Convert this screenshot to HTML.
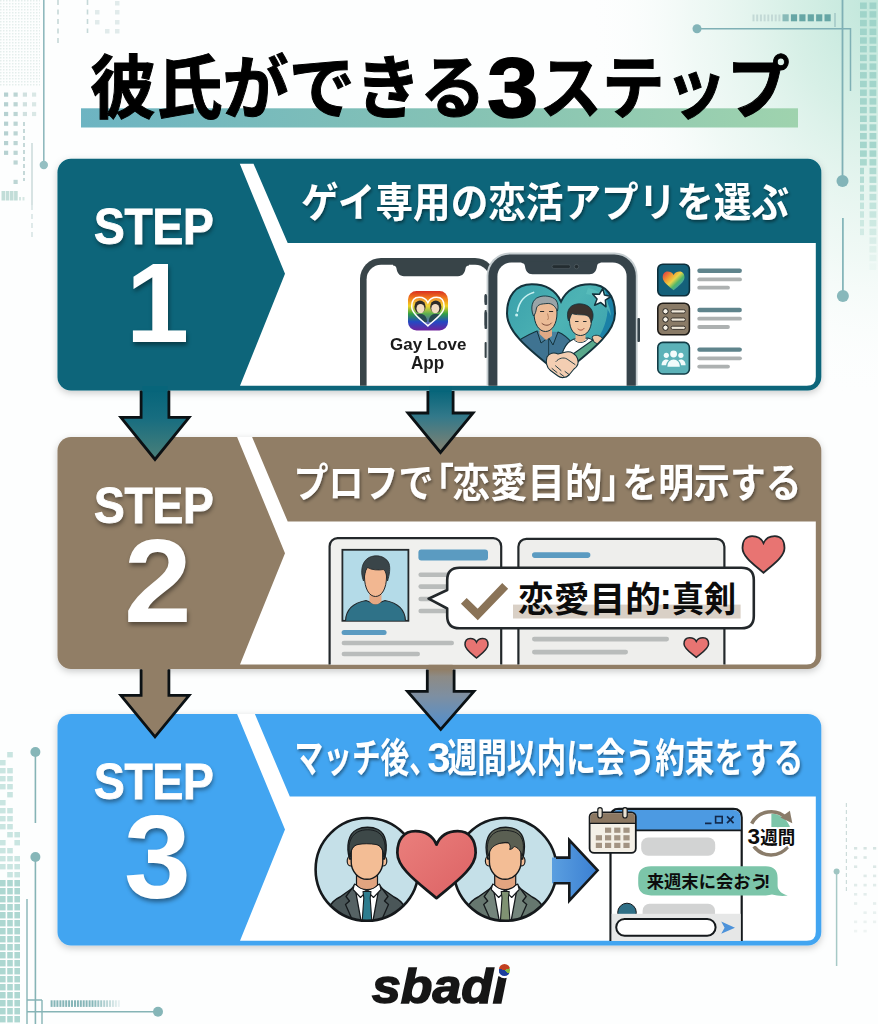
<!DOCTYPE html>
<html lang="ja">
<head>
<meta charset="utf-8">
<title>彼氏ができる3ステップ</title>
<style>
  html, body { margin: 0; padding: 0; }
  body { width: 878px; height: 1024px; overflow: hidden; background: #fdfefe; position: relative;
         font-family: "Liberation Sans", sans-serif; }
  #art { position: absolute; left: 0; top: 0; width: 878px; height: 1024px; }
  #art svg { display: block; }
  #art svg text { font-family: "Liberation Sans", "Noto Sans CJK JP", sans-serif; font-weight: bold; }
  .t { position: absolute; display: block; white-space: nowrap; font-family: "Liberation Sans", sans-serif; font-weight: bold; line-height: 1; transform-origin: 0 0; }
  .step { color: #fff; text-shadow: 1px 2.5px 4.5px rgba(0,0,0,.42); }
  .stp { -webkit-text-stroke: 0.9px #fff; letter-spacing: -0.3px; }
</style>
</head>
<body>
<div id="art">
<svg width="878" height="1024" viewBox="0 0 878 1024">
<defs>
<linearGradient id="gTitleBar" x1="0" x2="1" y1="0" y2="0"><stop offset="0" stop-color="#6db4c2"/><stop offset=".55" stop-color="#86c3b4"/><stop offset="1" stop-color="#9fd3ae"/></linearGradient>
<radialGradient id="gMint" cx="1" cy="0" r="1"><stop offset="0" stop-color="#bfe6da"/><stop offset=".3" stop-color="#d3eee4" stop-opacity=".9"/><stop offset=".65" stop-color="#e6f5ef" stop-opacity=".55"/><stop offset="1" stop-color="#fdfefe" stop-opacity="0"/></radialGradient>
<linearGradient id="gA1" x1="0" x2="0" y1="0" y2="1"><stop offset="0" stop-color="#07657a"/><stop offset=".4" stop-color="#176d80"/><stop offset="1" stop-color="#4b8079"/></linearGradient>
<linearGradient id="gA2" x1="0" x2="0" y1="0" y2="1"><stop offset="0" stop-color="#07657a"/><stop offset=".42" stop-color="#33798a"/><stop offset="1" stop-color="#858270"/></linearGradient>
<linearGradient id="gA4" x1="0" x2="0" y1="0" y2="1"><stop offset="0" stop-color="#917e66"/><stop offset=".12" stop-color="#8d8b86"/><stop offset=".45" stop-color="#7d8fa2"/><stop offset="1" stop-color="#4f8fd0"/></linearGradient>
<filter id="fBlock" x="-5%" y="-10%" width="110%" height="125%"><feDropShadow dx="0" dy="2.5" stdDeviation="3.5" flood-color="#000" flood-opacity=".20"/></filter>
<filter id="fTxt" x="-5%" y="-20%" width="110%" height="150%"><feDropShadow dx="1.2" dy="2.2" stdDeviation="1.6" flood-color="#000" flood-opacity=".42"/></filter>
</defs>
<rect width="878" height="1024" fill="#fdfefe"/>
<rect x="588" y="0" width="290" height="400" fill="url(#gMint)"/>
<g opacity=".95">
<path d="M43.800 0V165" stroke="#8ab6ba" stroke-width="1.600"/><circle cx="43.800" cy="165" r="4.200" fill="#8fbcbf"/>
<defs><pattern id="pHatch" width="3" height="3" patternUnits="userSpaceOnUse"><rect width="1.500" height="1.500" fill="#e3eeec"/></pattern></defs>
<rect x="0" y="0" width="40" height="86" fill="url(#pHatch)"/>
<rect x="4.0" y="92.5" width="4.200" height="4.200" fill="#b3cfcf"/>
<rect x="4.0" y="102.2" width="4.200" height="4.200" fill="#b3cfcf"/>
<rect x="4.0" y="111.9" width="4.200" height="4.200" fill="#b3cfcf"/>
<rect x="4.0" y="121.6" width="4.200" height="4.200" fill="#b3cfcf"/>
<rect x="4.0" y="131.3" width="4.200" height="4.200" fill="#b3cfcf"/>
<rect x="4.0" y="141.0" width="4.200" height="4.200" fill="#b3cfcf"/>
<rect x="4.0" y="150.7" width="4.200" height="4.200" fill="#b3cfcf"/>
<rect x="13.5" y="92.5" width="4.200" height="4.200" fill="#b9d3d2"/>
<rect x="13.5" y="102.2" width="4.200" height="4.200" fill="#b9d3d2"/>
<rect x="13.5" y="111.9" width="4.200" height="4.200" fill="#b9d3d2"/>
<rect x="13.5" y="121.6" width="4.200" height="4.200" fill="#b9d3d2"/>
<rect x="13.5" y="131.3" width="4.200" height="4.200" fill="#b9d3d2"/>
<rect x="13.5" y="141.0" width="4.200" height="4.200" fill="#b9d3d2"/>
<rect x="13.5" y="150.7" width="4.200" height="4.200" fill="#b9d3d2"/>
<rect x="13.5" y="160.4" width="4.200" height="4.200" fill="#b9d3d2"/>
<rect x="13.5" y="179.8" width="4.200" height="4.200" fill="#b9d3d2"/>
<rect x="22.8" y="92.5" width="4.200" height="4.200" fill="#cfe0df"/>
<rect x="22.8" y="102.2" width="4.200" height="4.200" fill="#cfe0df"/>
<rect x="22.8" y="111.9" width="4.200" height="4.200" fill="#cfe0df"/>
<rect x="32.0" y="92.5" width="4.200" height="4.200" fill="#d9e7e5"/>
<rect x="32.0" y="102.2" width="4.200" height="4.200" fill="#d9e7e5"/>
<rect x="32.0" y="111.9" width="4.200" height="4.200" fill="#d9e7e5"/>
<path d="M58 0V43M87.500 0V33" stroke="#c3d6d6" stroke-width="1.600" stroke-dasharray="5 4.500"/>
<path d="M24 122V181" stroke="#b5cdcd" stroke-width="1.600" stroke-dasharray="4 3"/>
<path d="M32 143V205" stroke="#b9cfcf" stroke-width="1.200"/><path d="M32 205V241" stroke="#c9dada" stroke-width="1.200" stroke-dasharray="5 4"/>
<rect x="95" y="10" width="4.500" height="4.500" fill="#e0eaea"/>
<rect x="95" y="20" width="4.500" height="4.500" fill="#e0eaea"/>
<rect x="115" y="1" width="4.500" height="4.500" fill="#e0eaea"/>
<rect x="115" y="10" width="4.500" height="4.500" fill="#e0eaea"/>
<rect x="115" y="20" width="4.500" height="4.500" fill="#e0eaea"/>
<rect x="105" y="29" width="4.500" height="4.500" fill="#e0eaea"/>
<rect x="115" y="29" width="4.500" height="4.500" fill="#e0eaea"/>
<rect x="1.5" y="191" width="3.600" height="9.500" fill="#bfdcd6"/>
<rect x="5.7" y="191" width="3.600" height="9.500" fill="#bfdcd6"/>
<rect x="9.9" y="191" width="3.600" height="9.500" fill="#bfdcd6"/>
<rect x="14.1" y="191" width="3.600" height="9.500" fill="#bfdcd6"/>
<rect x="19.0" y="197" width="2" height="3.500" fill="#d3e6e2"/>
<rect x="22.5" y="197" width="2" height="3.500" fill="#d3e6e2"/>
</g>
<path d="M842.500 0V181" stroke="#7fb0b5" stroke-width="1.800"/><circle cx="842.500" cy="181" r="6" fill="#82b4b8"/>
<path d="M842.900 218V296" stroke="#86b6ba" stroke-width="1.800"/><circle cx="842.900" cy="296" r="6" fill="#88b8bb"/>
<path d="M697 28.800H850.500V91" fill="none" stroke="#7fb0b5" stroke-width="1.500"/><circle cx="697" cy="28.800" r="4.500" fill="#82b4b8"/>
<rect x="752.5" y="14.500" width="2" height="6.800" fill="#c3d9d6"/>
<rect x="756.2" y="14.500" width="2" height="6.800" fill="#c3d9d6"/>
<rect x="759.9" y="14.500" width="2" height="6.800" fill="#c3d9d6"/>
<rect x="763.6" y="14.500" width="2" height="6.800" fill="#c3d9d6"/>
<rect x="767.3" y="14.500" width="2" height="6.800" fill="#c3d9d6"/>
<rect x="771.0" y="14.500" width="2" height="6.800" fill="#c3d9d6"/>
<rect x="774.7" y="14.500" width="2" height="6.800" fill="#c3d9d6"/>
<rect x="778.4" y="14.500" width="2" height="6.800" fill="#c3d9d6"/>
<rect x="782.5" y="14.300" width="6.200" height="7" fill="#88bab8"/>
<rect x="790.9" y="14.300" width="6.200" height="7" fill="#66a6a5"/>
<rect x="799.3" y="14.300" width="6.200" height="7" fill="#66a6a5"/>
<rect x="807.7" y="14.300" width="6.200" height="7" fill="#66a6a5"/>
<rect x="816.1" y="14.300" width="6.200" height="7" fill="#66a6a5"/>
<rect x="824.5" y="14.300" width="6.200" height="7" fill="#66a6a5"/>
<path d="M835 13V27" stroke="#9cc2c2" stroke-width="1.300"/>
<rect x="860.0" y="2.5" width="6.8" height="6.400" fill="#96cec4" opacity="0.80"/>
<rect x="869.5" y="2.5" width="6.8" height="6.400" fill="#96cec4" opacity="0.80"/>
<rect x="860.0" y="11.2" width="6.8" height="6.400" fill="#96cec4" opacity="0.80"/>
<rect x="869.5" y="11.2" width="6.8" height="6.400" fill="#96cec4" opacity="0.80"/>
<rect x="860.0" y="19.9" width="6.8" height="6.400" fill="#96cec4" opacity="0.80"/>
<rect x="869.5" y="19.9" width="6.8" height="6.400" fill="#96cec4" opacity="0.80"/>
<rect x="860.0" y="28.6" width="6.8" height="6.400" fill="#96cec4" opacity="0.80"/>
<rect x="869.5" y="28.6" width="6.8" height="6.400" fill="#96cec4" opacity="0.80"/>
<rect x="860.0" y="37.3" width="6.8" height="6.400" fill="#96cec4" opacity="0.80"/>
<rect x="869.5" y="37.3" width="6.8" height="6.400" fill="#96cec4" opacity="0.80"/>
<rect x="860.0" y="46.0" width="6.8" height="6.400" fill="#96cec4" opacity="0.80"/>
<rect x="869.5" y="46.0" width="6.8" height="6.400" fill="#96cec4" opacity="0.80"/>
<rect x="860.0" y="54.7" width="6.8" height="6.400" fill="#96cec4" opacity="0.80"/>
<rect x="869.5" y="54.7" width="6.8" height="6.400" fill="#96cec4" opacity="0.80"/>
<rect x="860.0" y="63.4" width="6.8" height="6.400" fill="#96cec4" opacity="0.80"/>
<rect x="869.5" y="63.4" width="6.8" height="6.400" fill="#96cec4" opacity="0.80"/>
<rect x="860.0" y="72.1" width="6.8" height="6.400" fill="#96cec4" opacity="0.80"/>
<rect x="869.5" y="72.1" width="6.8" height="6.400" fill="#96cec4" opacity="0.80"/>
<rect x="860.0" y="80.8" width="6.8" height="6.400" fill="#96cec4" opacity="0.80"/>
<rect x="869.5" y="80.8" width="6.8" height="6.400" fill="#96cec4" opacity="0.80"/>
<rect x="860.0" y="89.5" width="6.8" height="6.400" fill="#96cec4" opacity="0.80"/>
<rect x="869.5" y="89.5" width="6.8" height="6.400" fill="#96cec4" opacity="0.80"/>
<rect x="860.0" y="98.2" width="6.8" height="6.400" fill="#96cec4" opacity="0.80"/>
<rect x="869.5" y="98.2" width="6.8" height="6.400" fill="#96cec4" opacity="0.80"/>
<rect x="860.0" y="106.9" width="6.8" height="6.400" fill="#96cec4" opacity="0.80"/>
<rect x="869.5" y="106.9" width="6.8" height="6.400" fill="#96cec4" opacity="0.80"/>
<rect x="860.0" y="115.6" width="6.8" height="6.400" fill="#96cec4" opacity="0.80"/>
<rect x="869.5" y="115.6" width="6.8" height="6.400" fill="#96cec4" opacity="0.80"/>
<rect x="860.0" y="124.3" width="6.8" height="6.400" fill="#96cec4" opacity="0.80"/>
<rect x="869.5" y="124.3" width="6.8" height="6.400" fill="#96cec4" opacity="0.80"/>
<rect x="860.0" y="133.0" width="6.8" height="6.400" fill="#96cec4" opacity="0.80"/>
<rect x="869.5" y="133.0" width="6.8" height="6.400" fill="#96cec4" opacity="0.80"/>
<rect x="860.0" y="141.7" width="6.8" height="6.400" fill="#96cec4" opacity="0.80"/>
<rect x="869.5" y="141.7" width="6.8" height="6.400" fill="#96cec4" opacity="0.80"/>
<rect x="860.0" y="150.4" width="6.8" height="6.400" fill="#96cec4" opacity="0.80"/>
<rect x="869.5" y="150.4" width="6.8" height="6.400" fill="#96cec4" opacity="0.80"/>
<rect x="860.0" y="159.1" width="6.8" height="6.400" fill="#96cec4" opacity="0.74"/>
<rect x="869.5" y="159.1" width="6.8" height="6.400" fill="#96cec4" opacity="0.74"/>
<rect x="860.0" y="167.8" width="4.0" height="6.400" fill="#96cec4" opacity="0.69"/>
<rect x="869.5" y="167.8" width="6.8" height="6.400" fill="#96cec4" opacity="0.69"/>
<rect x="860.0" y="176.5" width="4.0" height="6.400" fill="#96cec4" opacity="0.63"/>
<rect x="869.5" y="176.5" width="6.8" height="6.400" fill="#96cec4" opacity="0.63"/>
<rect x="860.0" y="185.2" width="4.0" height="6.400" fill="#96cec4" opacity="0.57"/>
<rect x="869.5" y="185.2" width="6.8" height="6.400" fill="#96cec4" opacity="0.57"/>
<rect x="860.0" y="193.9" width="4.0" height="6.400" fill="#96cec4" opacity="0.52"/>
<rect x="869.5" y="193.9" width="6.8" height="6.400" fill="#96cec4" opacity="0.52"/>
<rect x="860.0" y="202.6" width="4.0" height="6.400" fill="#96cec4" opacity="0.46"/>
<rect x="869.5" y="202.6" width="6.8" height="6.400" fill="#96cec4" opacity="0.46"/>
<rect x="860.0" y="211.3" width="4.0" height="6.400" fill="#96cec4" opacity="0.41"/>
<rect x="869.5" y="211.3" width="6.8" height="6.400" fill="#96cec4" opacity="0.41"/>
<rect x="860.0" y="220.0" width="4.0" height="6.400" fill="#96cec4" opacity="0.35"/>
<rect x="869.5" y="220.0" width="6.8" height="6.400" fill="#96cec4" opacity="0.35"/>
<rect x="860.0" y="228.7" width="4.0" height="6.400" fill="#96cec4" opacity="0.30"/>
<rect x="869.5" y="228.7" width="6.8" height="6.400" fill="#96cec4" opacity="0.30"/>
<rect x="869.5" y="237.4" width="6.8" height="6.400" fill="#96cec4" opacity="0.24"/>
<rect x="869.5" y="246.1" width="6.8" height="6.400" fill="#96cec4" opacity="0.18"/>
<rect x="869.5" y="254.8" width="6.8" height="6.400" fill="#96cec4" opacity="0.13"/>
<rect x="869.5" y="263.5" width="6.8" height="6.400" fill="#96cec4" opacity="0.07"/>
<path d="M836.600 871.500V966" stroke="#a6c9c6" stroke-width="1.500"/><circle cx="836.600" cy="871.500" r="3" fill="#9fc5c2"/>
<path d="M846.400 803V893" stroke="#cddcda" stroke-width="1.200" stroke-dasharray="4 3"/>
<rect x="854.0" y="847.0" width="3.200" height="2.600" fill="#d6e4e2" opacity="1.00"/>
<rect x="863.5" y="847.0" width="3.200" height="2.600" fill="#d6e4e2" opacity="1.00"/>
<rect x="873.0" y="847.0" width="3.200" height="2.600" fill="#d6e4e2" opacity="1.00"/>
<rect x="854.0" y="856.2" width="3.200" height="2.600" fill="#d6e4e2" opacity="0.93"/>
<rect x="863.5" y="856.2" width="3.200" height="2.600" fill="#d6e4e2" opacity="0.93"/>
<rect x="854.0" y="865.4" width="3.200" height="2.600" fill="#d6e4e2" opacity="0.86"/>
<rect x="873.0" y="865.4" width="3.200" height="2.600" fill="#d6e4e2" opacity="0.86"/>
<rect x="863.5" y="874.6" width="3.200" height="2.600" fill="#d6e4e2" opacity="0.79"/>
<rect x="873.0" y="874.6" width="3.200" height="2.600" fill="#d6e4e2" opacity="0.79"/>
<rect x="854.0" y="883.8" width="3.200" height="2.600" fill="#d6e4e2" opacity="0.72"/>
<rect x="863.5" y="883.8" width="3.200" height="2.600" fill="#d6e4e2" opacity="0.72"/>
<rect x="873.0" y="883.8" width="3.200" height="2.600" fill="#d6e4e2" opacity="0.72"/>
<rect x="854.0" y="893.0" width="3.200" height="2.600" fill="#d6e4e2" opacity="0.65"/>
<rect x="863.5" y="893.0" width="3.200" height="2.600" fill="#d6e4e2" opacity="0.65"/>
<rect x="854.0" y="902.2" width="3.200" height="2.600" fill="#d6e4e2" opacity="0.58"/>
<rect x="873.0" y="902.2" width="3.200" height="2.600" fill="#d6e4e2" opacity="0.58"/>
<rect x="863.5" y="911.4" width="3.200" height="2.600" fill="#d6e4e2" opacity="0.51"/>
<rect x="873.0" y="911.4" width="3.200" height="2.600" fill="#d6e4e2" opacity="0.51"/>
<rect x="854.0" y="920.6" width="3.200" height="2.600" fill="#d6e4e2" opacity="0.44"/>
<rect x="863.5" y="920.6" width="3.200" height="2.600" fill="#d6e4e2" opacity="0.44"/>
<rect x="873.0" y="920.6" width="3.200" height="2.600" fill="#d6e4e2" opacity="0.44"/>
<rect x="854.0" y="929.8" width="3.200" height="2.600" fill="#d6e4e2" opacity="0.37"/>
<rect x="863.5" y="929.8" width="3.200" height="2.600" fill="#d6e4e2" opacity="0.37"/>
<path d="M35.400 752V823" stroke="#86b4b6" stroke-width="1.600"/><circle cx="35.400" cy="752" r="5" fill="#86b6b8"/>
<path d="M35.400 857V1024" stroke="#86b4b6" stroke-width="1.600"/><circle cx="35.400" cy="857" r="5" fill="#86b6b8"/>
<path d="M27 899V1024M27 1011.700H158M42 1000V1024M27 1000H42" fill="none" stroke="#86b4b6" stroke-width="1.400"/><circle cx="158" cy="1011.700" r="5" fill="#86b6b8"/>
<rect x="50.6" y="1000.300" width="2" height="6.600" fill="#86b6b8" opacity="1.00"/>
<rect x="53.5" y="1000.300" width="2" height="6.600" fill="#86b6b8" opacity="1.00"/>
<rect x="56.4" y="1000.300" width="2" height="6.600" fill="#86b6b8" opacity="1.00"/>
<rect x="59.4" y="1000.300" width="2" height="6.600" fill="#86b6b8" opacity="1.00"/>
<rect x="62.3" y="1000.300" width="2" height="6.600" fill="#86b6b8" opacity="1.00"/>
<rect x="65.2" y="1000.300" width="2" height="6.600" fill="#86b6b8" opacity="1.00"/>
<rect x="68.1" y="1000.300" width="2" height="6.600" fill="#86b6b8" opacity="1.00"/>
<rect x="71.0" y="1000.300" width="2" height="6.600" fill="#86b6b8" opacity="1.00"/>
<rect x="74.0" y="1000.300" width="2" height="6.600" fill="#86b6b8" opacity="1.00"/>
<rect x="76.9" y="1000.300" width="2" height="6.600" fill="#86b6b8" opacity="1.00"/>
<rect x="79.8" y="1000.300" width="2" height="6.600" fill="#86b6b8" opacity="1.00"/>
<rect x="82.7" y="1000.300" width="2" height="6.600" fill="#86b6b8" opacity="1.00"/>
<rect x="85.6" y="1000.300" width="2" height="6.600" fill="#86b6b8" opacity="1.00"/>
<rect x="88.6" y="1000.300" width="2" height="6.600" fill="#86b6b8" opacity="1.00"/>
<rect x="91.5" y="1000.300" width="2" height="6.600" fill="#86b6b8" opacity="1.00"/>
<rect x="94.4" y="1000.300" width="2" height="6.600" fill="#86b6b8" opacity="0.91"/>
<rect x="97.3" y="1000.300" width="2" height="6.600" fill="#86b6b8" opacity="0.82"/>
<rect x="100.2" y="1000.300" width="2" height="6.600" fill="#86b6b8" opacity="0.73"/>
<rect x="103.2" y="1000.300" width="2" height="6.600" fill="#86b6b8" opacity="0.64"/>
<rect x="106.1" y="1000.300" width="2" height="6.600" fill="#86b6b8" opacity="0.55"/>
<rect x="109.0" y="1000.300" width="2" height="6.600" fill="#86b6b8" opacity="0.46"/>
<rect x="111.9" y="1000.300" width="2" height="6.600" fill="#86b6b8" opacity="0.37"/>
<rect x="114.8" y="1000.300" width="2" height="6.600" fill="#86b6b8" opacity="0.28"/>
<rect x="117.8" y="1000.300" width="2" height="6.600" fill="#86b6b8" opacity="0.19"/>
<rect x="7.2" y="752.0" width="5.600" height="5.4" fill="#9fd0c9" opacity="0.55"/>
<rect x="0.0" y="760.0" width="5.600" height="5.4" fill="#9fd0c9" opacity="0.55"/>
<rect x="0.0" y="768.0" width="5.600" height="5.4" fill="#9fd0c9" opacity="0.55"/>
<rect x="7.2" y="768.0" width="5.600" height="5.4" fill="#9fd0c9" opacity="0.55"/>
<rect x="0.0" y="776.0" width="5.600" height="5.4" fill="#9fd0c9" opacity="0.55"/>
<rect x="7.2" y="776.0" width="5.600" height="5.4" fill="#9fd0c9" opacity="0.55"/>
<rect x="0.0" y="784.0" width="5.600" height="5.4" fill="#9fd0c9" opacity="0.55"/>
<rect x="7.2" y="784.0" width="5.600" height="5.4" fill="#9fd0c9" opacity="0.55"/>
<rect x="7.2" y="792.0" width="5.600" height="5.4" fill="#9fd0c9" opacity="0.55"/>
<rect x="0.0" y="800.0" width="5.600" height="5.4" fill="#9fd0c9" opacity="0.55"/>
<rect x="0.0" y="808.0" width="5.600" height="5.4" fill="#9fd0c9" opacity="0.55"/>
<rect x="7.2" y="808.0" width="5.600" height="5.4" fill="#9fd0c9" opacity="0.55"/>
<rect x="0.0" y="816.0" width="5.600" height="5.4" fill="#9fd0c9" opacity="0.55"/>
<rect x="7.2" y="816.0" width="5.600" height="5.4" fill="#9fd0c9" opacity="0.55"/>
<rect x="0.0" y="824.0" width="5.600" height="5.4" fill="#9fd0c9" opacity="0.55"/>
<rect x="7.2" y="824.0" width="5.600" height="5.4" fill="#9fd0c9" opacity="0.55"/>
<rect x="7.2" y="832.0" width="5.600" height="5.4" fill="#9fd0c9" opacity="0.55"/>
<rect x="14.4" y="832.0" width="5.600" height="5.4" fill="#9fd0c9" opacity="0.55"/>
<rect x="0.0" y="840.0" width="5.600" height="5.4" fill="#9fd0c9" opacity="0.55"/>
<rect x="14.4" y="840.0" width="5.600" height="5.4" fill="#9fd0c9" opacity="0.55"/>
<rect x="0.0" y="848.0" width="5.600" height="5.4" fill="#9fd0c9" opacity="0.55"/>
<rect x="7.2" y="848.0" width="5.600" height="5.4" fill="#9fd0c9" opacity="0.55"/>
<rect x="0.0" y="856.0" width="5.600" height="5.4" fill="#9fd0c9" opacity="0.55"/>
<rect x="7.2" y="856.0" width="5.600" height="5.4" fill="#9fd0c9" opacity="0.55"/>
<rect x="14.4" y="856.0" width="5.600" height="5.4" fill="#9fd0c9" opacity="0.55"/>
<rect x="0.0" y="864.0" width="5.600" height="5.4" fill="#9fd0c9" opacity="0.55"/>
<rect x="7.2" y="864.0" width="5.600" height="5.4" fill="#9fd0c9" opacity="0.55"/>
<rect x="14.4" y="864.0" width="5.600" height="5.4" fill="#9fd0c9" opacity="0.55"/>
<rect x="7.2" y="872.0" width="5.600" height="5.4" fill="#9fd0c9" opacity="0.55"/>
<rect x="14.4" y="872.0" width="5.600" height="5.4" fill="#9fd0c9" opacity="0.55"/>
<rect x="0.0" y="880.0" width="5.600" height="6.4" fill="#9fd0c9" opacity="0.85"/>
<rect x="7.2" y="880.0" width="5.600" height="6.4" fill="#9fd0c9" opacity="0.85"/>
<rect x="14.4" y="880.0" width="5.600" height="6.4" fill="#9fd0c9" opacity="0.85"/>
<rect x="0.0" y="888.0" width="5.600" height="6.4" fill="#9fd0c9" opacity="0.85"/>
<rect x="7.2" y="888.0" width="5.600" height="6.4" fill="#9fd0c9" opacity="0.85"/>
<rect x="14.4" y="888.0" width="5.600" height="6.4" fill="#9fd0c9" opacity="0.85"/>
<rect x="0.0" y="896.0" width="5.600" height="6.4" fill="#9fd0c9" opacity="0.85"/>
<rect x="7.2" y="896.0" width="5.600" height="6.4" fill="#9fd0c9" opacity="0.85"/>
<rect x="14.4" y="896.0" width="5.600" height="6.4" fill="#9fd0c9" opacity="0.85"/>
<rect x="0.0" y="904.0" width="5.600" height="6.4" fill="#9fd0c9" opacity="0.85"/>
<rect x="7.2" y="904.0" width="5.600" height="6.4" fill="#9fd0c9" opacity="0.85"/>
<rect x="14.4" y="904.0" width="5.600" height="6.4" fill="#9fd0c9" opacity="0.85"/>
<rect x="0.0" y="912.0" width="5.600" height="6.4" fill="#9fd0c9" opacity="0.85"/>
<rect x="7.2" y="912.0" width="5.600" height="6.4" fill="#9fd0c9" opacity="0.85"/>
<rect x="14.4" y="912.0" width="5.600" height="6.4" fill="#9fd0c9" opacity="0.85"/>
<rect x="0.0" y="920.0" width="5.600" height="6.4" fill="#9fd0c9" opacity="0.85"/>
<rect x="7.2" y="920.0" width="5.600" height="6.4" fill="#9fd0c9" opacity="0.85"/>
<rect x="14.4" y="920.0" width="5.600" height="6.4" fill="#9fd0c9" opacity="0.85"/>
<rect x="0.0" y="928.0" width="5.600" height="6.4" fill="#9fd0c9" opacity="0.85"/>
<rect x="7.2" y="928.0" width="5.600" height="6.4" fill="#9fd0c9" opacity="0.85"/>
<rect x="14.4" y="928.0" width="5.600" height="6.4" fill="#9fd0c9" opacity="0.85"/>
<rect x="0.0" y="936.0" width="5.600" height="6.4" fill="#9fd0c9" opacity="0.85"/>
<rect x="7.2" y="936.0" width="5.600" height="6.4" fill="#9fd0c9" opacity="0.85"/>
<rect x="14.4" y="936.0" width="5.600" height="6.4" fill="#9fd0c9" opacity="0.85"/>
<rect x="0.0" y="944.0" width="5.600" height="6.4" fill="#9fd0c9" opacity="0.85"/>
<rect x="7.2" y="944.0" width="5.600" height="6.4" fill="#9fd0c9" opacity="0.85"/>
<rect x="14.4" y="944.0" width="5.600" height="6.4" fill="#9fd0c9" opacity="0.85"/>
<rect x="0.0" y="952.0" width="5.600" height="6.4" fill="#9fd0c9" opacity="0.85"/>
<rect x="7.2" y="952.0" width="5.600" height="6.4" fill="#9fd0c9" opacity="0.85"/>
<rect x="14.4" y="952.0" width="5.600" height="6.4" fill="#9fd0c9" opacity="0.85"/>
<rect x="0.0" y="960.0" width="5.600" height="6.4" fill="#9fd0c9" opacity="0.85"/>
<rect x="7.2" y="960.0" width="5.600" height="6.4" fill="#9fd0c9" opacity="0.85"/>
<rect x="14.4" y="960.0" width="5.600" height="6.4" fill="#9fd0c9" opacity="0.85"/>
<rect x="0.0" y="968.0" width="5.600" height="6.4" fill="#9fd0c9" opacity="0.85"/>
<rect x="7.2" y="968.0" width="5.600" height="6.4" fill="#9fd0c9" opacity="0.85"/>
<rect x="14.4" y="968.0" width="5.600" height="6.4" fill="#9fd0c9" opacity="0.85"/>
<rect x="0.0" y="976.0" width="5.600" height="6.4" fill="#9fd0c9" opacity="0.85"/>
<rect x="7.2" y="976.0" width="5.600" height="6.4" fill="#9fd0c9" opacity="0.85"/>
<rect x="14.4" y="976.0" width="5.600" height="6.4" fill="#9fd0c9" opacity="0.85"/>
<rect x="0.0" y="984.0" width="5.600" height="6.4" fill="#9fd0c9" opacity="0.85"/>
<rect x="7.2" y="984.0" width="5.600" height="6.4" fill="#9fd0c9" opacity="0.85"/>
<rect x="14.4" y="984.0" width="5.600" height="6.4" fill="#9fd0c9" opacity="0.85"/>
<rect x="0.0" y="992.0" width="5.600" height="6.4" fill="#9fd0c9" opacity="0.85"/>
<rect x="7.2" y="992.0" width="5.600" height="6.4" fill="#9fd0c9" opacity="0.85"/>
<rect x="14.4" y="992.0" width="5.600" height="6.4" fill="#9fd0c9" opacity="0.85"/>
<rect x="0.0" y="1000.0" width="5.600" height="6.4" fill="#9fd0c9" opacity="0.85"/>
<rect x="7.2" y="1000.0" width="5.600" height="6.4" fill="#9fd0c9" opacity="0.85"/>
<rect x="14.4" y="1000.0" width="5.600" height="6.4" fill="#9fd0c9" opacity="0.85"/>
<rect x="0.0" y="1008.0" width="5.600" height="6.4" fill="#9fd0c9" opacity="0.85"/>
<rect x="7.2" y="1008.0" width="5.600" height="6.4" fill="#9fd0c9" opacity="0.85"/>
<rect x="14.4" y="1008.0" width="5.600" height="6.4" fill="#9fd0c9" opacity="0.85"/>
<rect x="0.0" y="1016.0" width="5.600" height="6.4" fill="#9fd0c9" opacity="0.85"/>
<rect x="7.2" y="1016.0" width="5.600" height="6.4" fill="#9fd0c9" opacity="0.85"/>
<rect x="14.4" y="1016.0" width="5.600" height="6.4" fill="#9fd0c9" opacity="0.85"/>
<rect x="0.0" y="1024.0" width="5.600" height="6.4" fill="#9fd0c9" opacity="0.85"/>
<rect x="7.2" y="1024.0" width="5.600" height="6.4" fill="#9fd0c9" opacity="0.85"/>
<rect x="14.4" y="1024.0" width="5.600" height="6.4" fill="#9fd0c9" opacity="0.85"/>
<rect x="81" y="108.3" width="717" height="19.2" fill="url(#gTitleBar)"/>
<text x="90" y="112.8" font-size="69" fill="#000" stroke="#000" stroke-width="1" textLength="396" lengthAdjust="spacingAndGlyphs">彼氏ができる</text>
<text x="539.5" y="112.8" font-size="69" fill="#000" stroke="#000" stroke-width="1" textLength="250" lengthAdjust="spacingAndGlyphs">ステップ</text>
<!--TITLE3-->
<g filter="url(#fBlock)"><rect x="57.5" y="158.8" width="763.8" height="231.6" rx="13.5" fill="#07657a"/></g><path d="M239.8 163.7L253.5 163.7L287.7 243.0L815.8 243.0L815.8 376.8Q815.8 385.8 806.8 385.8L240 385.8L285 273.8Z" fill="#fff"/>
<g filter="url(#fBlock)"><rect x="57.5" y="437" width="763.8" height="232" rx="13.5" fill="#917e66"/></g><path d="M237.1 437.0L252.1 437.0L287.7 521.6L815.8 521.6L815.8 655.4Q815.8 664.4 806.8 664.4L240 664.4L285 553.2Z" fill="#fff"/>
<g filter="url(#fBlock)"><rect x="57.5" y="713.9" width="763.8" height="231.5" rx="13.5" fill="#43a5f1"/></g><path d="M237.1 713.9L254.9 713.9L289.8 796.6L815.8 796.6L815.8 931.8Q815.8 940.8 806.8 940.8L240 940.8L285 829.5Z" fill="#fff"/>
<defs>
<clipPath id="cw1"><path d="M270 243.2H815.8V377Q815.8 385.8 806.8 385.8H240Z"/></clipPath>
<linearGradient id="gRain" x1="0" x2="0" y1="0" y2="1"><stop offset="0" stop-color="#d92f22"/><stop offset=".18" stop-color="#f07a1c"/><stop offset=".38" stop-color="#f2d322"/><stop offset=".58" stop-color="#2f9f45"/><stop offset=".78" stop-color="#2348c4"/><stop offset="1" stop-color="#6f239c"/></linearGradient>
<linearGradient id="gHeartT" x1="0" x2="1" y1="0" y2=".6"><stop offset="0" stop-color="#3aa0ab"/><stop offset=".55" stop-color="#4db3b4"/><stop offset="1" stop-color="#3ca2ae"/></linearGradient>
<linearGradient id="gRain2" x1="0.05" x2=".9" y1="0.1" y2=".85"><stop offset="0" stop-color="#e5493f"/><stop offset=".3" stop-color="#f2a032"/><stop offset=".5" stop-color="#e9d44a"/><stop offset=".7" stop-color="#4fb86a"/><stop offset="1" stop-color="#3f8fd0"/></linearGradient>
<clipPath id="chrt"><path d="M561.00 301.59C554.52 287.94 542.64 284.30 531.84 284.30C515.64 284.30 507.00 296.13 507.00 313.42C507.00 335.26 537.24 355.28 561.00 375.30C584.76 355.28 615.00 335.26 615.00 313.42C615.00 296.13 606.36 284.30 590.16 284.30C579.36 284.30 567.48 287.94 561.00 301.59Z"/></clipPath>
</defs>
<g clip-path="url(#cw1)">
<rect x="360" y="258" width="136" height="170" rx="21" fill="#384448"/>
<rect x="366.600" y="264.700" width="123" height="160" rx="14.500" fill="#fff"/>
<path d="M393 264H469V265.400C467 265.400 465.800 266.400 465.500 268.600C464.900 273 462.500 276.300 458 276.300H404C399.500 276.300 397.100 273 396.500 268.600C396.200 266.400 395 265.400 393 265.400Z" fill="#384448"/>
<rect x="484.6" y="294" width="2.4" height="9" rx="1" fill="#384448"/><rect x="484.6" y="310" width="2.4" height="16" rx="1" fill="#384448"/><rect x="484.6" y="342" width="2.4" height="16" rx="1" fill="#384448"/>
<rect x="408" y="291" width="40" height="39.500" rx="8.500" fill="url(#gRain)"/>
<defs><clipPath id="chi"><path d="M427.90 302.73C425.96 298.44 422.39 297.30 419.15 297.30C414.29 297.30 411.70 301.02 411.70 306.45C411.70 313.32 420.77 319.61 427.90 325.90C435.03 319.61 444.10 313.32 444.10 306.45C444.10 301.02 441.51 297.30 436.65 297.30C433.41 297.30 429.84 298.44 427.90 302.73Z"/></clipPath></defs>
<path d="M427.90 302.73C425.96 298.44 422.39 297.30 419.15 297.30C414.29 297.30 411.70 301.02 411.70 306.45C411.70 313.32 420.77 319.61 427.90 325.90C435.03 319.61 444.10 313.32 444.10 306.45C444.10 301.02 441.51 297.30 436.65 297.30C433.41 297.30 429.84 298.44 427.90 302.73Z" fill="#f6e27a" fill-opacity=".22"/>
<g clip-path="url(#chi)">
<path d="M413.0 322c0-5.500 3-8.200 7-8.200s7 2.700 7 8.200z" fill="#274a4f"/>
<ellipse cx="420.0" cy="306.800" rx="5.600" ry="6.300" fill="#2f2c28"/>
<ellipse cx="420.5" cy="308.600" rx="4" ry="4.700" fill="#f3dcc2"/>
<path d="M428.8 322c0-5.500 3-8.200 7-8.200s7 2.700 7 8.200z" fill="#274a4f"/>
<ellipse cx="435.8" cy="306.800" rx="5.600" ry="6.300" fill="#2f2c28"/>
<ellipse cx="435.3" cy="308.600" rx="4" ry="4.700" fill="#f3dcc2"/>
</g>
<path d="M427.90 302.73C425.96 298.44 422.39 297.30 419.15 297.30C414.29 297.30 411.70 301.02 411.70 306.45C411.70 313.32 420.77 319.61 427.90 325.90C435.03 319.61 444.10 313.32 444.10 306.45C444.10 301.02 441.51 297.30 436.65 297.30C433.41 297.30 429.84 298.44 427.90 302.73Z" fill="none" stroke="#fff" stroke-width="1.500"/>
<rect x="486.6" y="252.6" width="151" height="175" rx="23" fill="#c5cdd0"/>
<rect x="488.4" y="254.4" width="147.4" height="175" rx="21.5" fill="#36434a"/>
<rect x="497.400" y="262.400" width="129.200" height="165" rx="14" fill="#fff"/>
<path d="M521.500 261.800H600.500V263C598.500 263 597.300 264 597 266.200C596.400 271 594 274.200 589.500 274.200H532.500C528 274.200 525.600 271 525 266.200C524.700 264 523.500 263 521.500 263Z" fill="#36434a"/>
<rect x="552" y="264.8" width="18.5" height="3.6" rx="1.800" fill="#232c30" stroke="#5a676c" stroke-width=".5"/><circle cx="576.5" cy="266.600" r="2.200" fill="#232c30" stroke="#5a676c" stroke-width=".6"/>
<rect x="484.500" y="295" width="2.600" height="10" rx="1" fill="#36434a"/><rect x="484.500" y="312" width="2.600" height="17" rx="1" fill="#36434a"/><rect x="637.400" y="318" width="2.600" height="24" rx="1" fill="#36434a"/>
<path d="M561.00 301.59C554.52 287.94 542.64 284.30 531.84 284.30C515.64 284.30 507.00 296.13 507.00 313.42C507.00 335.26 537.24 355.28 561.00 375.30C584.76 355.28 615.00 335.26 615.00 313.42C615.00 296.13 606.36 284.30 590.16 284.30C579.36 284.30 567.48 287.94 561.00 301.59Z" fill="url(#gHeartT)"/>
<g clip-path="url(#chrt)">
<path d="M603.500 287C611 302 609 326 594 344L600 352L622 330L622 287Z" fill="#1b80a6"/>
<path d="M588 288C600 290 610 300 611 316C606 304 598 296 586 294Z" fill="#5cc0bd" fill-opacity=".7"/>
<path d="M514 345C520 338 530 334 537 331L551 340L558 332C563 334 568 338 572 343L566 372L548 372L530 362Z" fill="#3f7391" stroke="#14323c" stroke-width="1.100" stroke-linejoin="round"/>
<path d="M537 331L541 343L548.500 337.500L553 345L558 332" fill="#4a819f" stroke="#14323c" stroke-width="1" stroke-linejoin="round"/>
<path d="M548.600 338V356" stroke="#14323c" stroke-width=".8"/>
<path d="M539.500 326H552V336L546 340L539.500 334Z" fill="#dfa985"/>
<path d="M534 313C534 303 539 299 546 299C553 299 557 304 557 313C557 324 552 331.500 545.500 331.500C539 331.500 534 324 534 313Z" fill="#ebbb96" stroke="#14323c" stroke-width="1"/>
<path d="M533.500 316C530 308 532 299 539 297C544 295 552 296 556 300C558 303 558.500 307 557.500 311C555 306 552 303 547 303.500C542 304 538 304 536.500 308C536 311 535.500 314 533.500 316Z" fill="#9aa4a7" stroke="#14323c" stroke-width=".9"/>
<path d="M540.500 311.500h3.200M549.500 311.500h3.200" stroke="#2a2a2a" stroke-width="1.100" stroke-linecap="round"/><path d="M547.500 313.500C548.500 317 549 319 547.300 320" stroke="#b07d5c" stroke-width=".9" fill="none"/><path d="M542 323.500C545 326 549 326 551.500 323" stroke="#7a4a3a" stroke-width="1" fill="none" stroke-linecap="round"/>
<path d="M560 372C560 352 566 342 574 339L588 338C595 340 600 344 603 350L596 372Z" fill="#fff" stroke="#14323c" stroke-width="1.100" stroke-linejoin="round"/>
<path d="M574 339.500C577 343.500 585 343.500 588 338.500" fill="none" stroke="#14323c" stroke-width="1"/>
<path d="M569.500 356.500L596.500 337.500L606.500 349.500L579.500 369Z" fill="#58a88b" stroke="#14323c" stroke-width="1.100" stroke-linejoin="round"/>
<path d="M592 337C595 334 600 335 603 339C604.500 342 604 345 601.500 346L594 342Z" fill="#f0c8a8" stroke="#14323c" stroke-width=".9"/>
<path d="M575.500 331H585.500V340C582 343 578 343 575.500 340Z" fill="#e9b892"/>
<path d="M569.500 320C569.500 311 574 307 580.500 307C587 307 591.500 311 591.500 320C591.500 329 587 335.500 580.500 335.500C574 335.500 569.500 329 569.500 320Z" fill="#f2c7a3" stroke="#14323c" stroke-width="1"/>
<path d="M568.500 321C565.500 312 569 305 577 304C585 303 592 306.500 593 314C593.300 317.500 592.500 320.500 591 322.500C590.500 318 588.500 315.500 585 315C580 314.500 575 315 572 313.500C570.500 316 570 319 568.500 321Z" fill="#3b332e" stroke="#14323c" stroke-width=".8"/>
<path d="M575.500 321.500h2.600M583.500 321.500h2.600" stroke="#2a2a2a" stroke-width="1.100" stroke-linecap="round"/><path d="M578 329C580 330.800 582.500 330.500 584 328.500" stroke="#a0503f" stroke-width="1" fill="none" stroke-linecap="round"/>
</g>
<path d="M561.00 301.59C554.52 287.94 542.64 284.30 531.84 284.30C515.64 284.30 507.00 296.13 507.00 313.42C507.00 335.26 537.24 355.28 561.00 375.30C584.76 355.28 615.00 335.26 615.00 313.42C615.00 296.13 606.36 284.30 590.16 284.30C579.36 284.30 567.48 287.94 561.00 301.59Z" fill="none" stroke="#14323c" stroke-width="2"/>
<path d="M517.500 311C519 302 525 295 533.500 292.500" fill="none" stroke="#c9f1f2" stroke-width="1.800" stroke-linecap="round"/><circle cx="516.600" cy="315" r="1.500" fill="#c9f1f2"/>
<path d="M547 357C549 353 554 352 558 354L566 352C571 351 576 354 577.500 358.500C579 363 577 367 574 369L569 375C566 378 561 378.500 558 376L550.500 370.500C546.500 367.500 545.500 361.500 547 357Z" fill="#f3ceb2" stroke="#14323c" stroke-width="1.100" stroke-linejoin="round"/>
<path d="M556 361.500C559 358 563.500 357 567 359L575 364.500M552 368.500L557 372.500M555.500 365.800L561 370.500M560 373.500L564 376.500M565 371.500L569 374.500" fill="none" stroke="#14323c" stroke-width=".9" stroke-linecap="round"/>
<path d="M602.76 288.50L604.46 295.03L611.05 296.50L605.35 300.13L606.00 306.85L600.79 302.56L594.59 305.25L597.07 298.96L592.59 293.90L599.33 294.32Z" fill="#fff" stroke="#14323c" stroke-width="1.500" stroke-linejoin="round"/>
<rect x="657.8" y="264.2" width="31.6" height="31.6" rx="5" fill="#14607a" stroke="#0c2f3c" stroke-width="1.600"/>
<path d="M673.60 274.97C672.29 272.15 669.89 271.40 667.71 271.40C664.44 271.40 662.70 273.84 662.70 277.42C662.70 281.93 668.80 286.06 673.60 290.20C678.40 286.06 684.50 281.93 684.50 277.42C684.50 273.84 682.76 271.40 679.49 271.40C677.31 271.40 674.91 272.15 673.60 274.97Z" fill="url(#gRain2)"/>
<rect x="657.8" y="303.2" width="31.6" height="31.6" rx="5" fill="#8a7b67" stroke="#1f1c18" stroke-width="1.600"/>
<circle cx="665.500" cy="311.3" r="2.700" fill="#f6f1e7" stroke="#1f1c18" stroke-width="1"/><rect x="671" y="309.8" width="14.400" height="3.200" rx="1.600" fill="#efe7d8" stroke="#1f1c18" stroke-width=".8"/>
<circle cx="665.500" cy="319.5" r="2.700" fill="#f6f1e7" stroke="#1f1c18" stroke-width="1"/><rect x="671" y="318.0" width="14.400" height="3.200" rx="1.600" fill="#efe7d8" stroke="#1f1c18" stroke-width=".8"/>
<circle cx="665.500" cy="327.7" r="2.700" fill="#f6f1e7" stroke="#1f1c18" stroke-width="1"/><rect x="671" y="326.2" width="14.400" height="3.200" rx="1.600" fill="#efe7d8" stroke="#1f1c18" stroke-width=".8"/>
<rect x="657.8" y="342.4" width="31.6" height="31.6" rx="5" fill="#5cb2b8" stroke="#123c46" stroke-width="1.600"/>
<g fill="#f2fbfb"><circle cx="673.6" cy="354" r="3.400"/><path d="M667.400 366.800c0-4.600 2.600-7.400 6.200-7.400s6.200 2.800 6.200 7.400z"/><circle cx="666.300" cy="355.300" r="2.600"/><path d="M661.600 365.200c0-3.600 1.900-5.800 4.700-5.800c1 0 1.800.3 2.500.8c-1.700 1.500-2.600 3.300-2.700 5z"/><circle cx="680.900" cy="355.300" r="2.600"/><path d="M685.600 365.200c0-3.600-1.900-5.800-4.700-5.800c-1 0-1.800.3-2.500.8c1.700 1.500 2.600 3.300 2.700 5z"/></g>
<rect x="697.3" y="268.5" width="44.6" height="4.400" rx="2.200" fill="#5f848c"/>
<rect x="697.3" y="277.5" width="44.6" height="3.800" rx="1.900" fill="#adb1b1"/>
<rect x="697.3" y="285.8" width="32.6" height="3.800" rx="1.900" fill="#adb1b1"/>
<rect x="697.3" y="307.8" width="44.6" height="4.400" rx="2.200" fill="#5f848c"/>
<rect x="697.3" y="316.8" width="44.6" height="3.800" rx="1.900" fill="#adb1b1"/>
<rect x="697.3" y="325.1" width="32.6" height="3.800" rx="1.900" fill="#adb1b1"/>
<rect x="697.3" y="347.4" width="44.6" height="4.400" rx="2.200" fill="#5f848c"/>
<rect x="697.3" y="356.4" width="44.6" height="3.800" rx="1.900" fill="#adb1b1"/>
<rect x="697.3" y="364.7" width="32.6" height="3.800" rx="1.900" fill="#adb1b1"/>
</g>
<defs><clipPath id="cw2"><path d="M270 521.4H815.8V655.4Q815.8 664.4 806.8 664.4H240Z"/></clipPath>
<clipPath id="cav2"><rect x="342.4" y="549.8" width="66" height="71"/></clipPath></defs>
<g clip-path="url(#cw2)">
<rect x="329.6" y="538.2" width="171.6" height="140" rx="8" fill="#f0f0ee" stroke="#23282b" stroke-width="2.200"/>
<rect x="342.4" y="549.8" width="66" height="71" fill="#b4dbe8" stroke="#23282b" stroke-width="1.800"/>
<g clip-path="url(#cav2)">
<path d="M345.500 622C345.500 608 355 602.500 366 600.500L375.500 604L385 600.500C396 602.500 405.500 608 405.500 622Z" fill="#2f7288" stroke="#23282b" stroke-width="1.200"/>
<path d="M369.500 590H381.500V601.500C378 605.500 373 605.500 369.500 601.500Z" fill="#e6a883"/>
<path d="M364.500 577C364.500 568 369 563 375.500 563C382 563 386.500 568 386.500 577C386.500 588 382 596.500 375.500 596.500C369 596.500 364.500 588 364.500 577Z" fill="#f2b791" stroke="#23282b" stroke-width="1"/>
<path d="M363.500 581C360 572 361.500 561.500 369 557.500C376 554 386 556 389 563.500C390.500 568 389.500 575 387.500 581C387 575.500 386 571.500 383.500 569.500C379 570.500 371 570 367.500 567.500C365 570.500 364.500 576 363.500 581Z" fill="#3a4549" stroke="#23282b" stroke-width=".8"/>
</g>
<rect x="418.4" y="549.6" width="69.6" height="11" rx="3" fill="#5b9bc1"/>
<rect x="418.4" y="572.5" width="52" height="4.600" rx="2.300" fill="#b9bcbb"/>
<rect x="418.4" y="584.3" width="52" height="4.600" rx="2.300" fill="#b9bcbb"/>
<rect x="418.4" y="596.7" width="30" height="4.600" rx="2.300" fill="#b9bcbb"/>
<rect x="418.4" y="608.7" width="52" height="4.600" rx="2.300" fill="#b9bcbb"/>
<rect x="341.600" y="630" width="45" height="5" rx="2.500" fill="#5b9bc1"/>
<rect x="341.600" y="640.700" width="112.400" height="4.600" rx="2.300" fill="#b9bcbb"/>
<rect x="341.600" y="651.700" width="78.400" height="4.600" rx="2.300" fill="#b9bcbb"/>
<path d="M476.50 642.21C475.12 639.28 472.59 638.50 470.29 638.50C466.84 638.50 465.00 641.03 465.00 644.74C465.00 649.42 471.44 653.71 476.50 658.00C481.56 653.71 488.00 649.42 488.00 644.74C488.00 641.03 486.16 638.50 482.71 638.50C480.41 638.50 477.88 639.28 476.50 642.21Z" fill="#e87472" stroke="#23282b" stroke-width="1.500"/>
<rect x="518.4" y="538.8" width="206" height="140" rx="8" fill="#eeeeec" stroke="#23282b" stroke-width="2.200"/>
<rect x="532" y="552.300" width="58.400" height="5.600" rx="2.800" fill="#5b9bc1"/>
<rect x="532" y="636.800" width="137" height="4.600" rx="2.300" fill="#b9bcbb"/>
<rect x="532" y="649.800" width="96" height="4.600" rx="2.300" fill="#b9bcbb"/>
<path d="M696.30 641.42C694.82 638.48 692.12 637.70 689.66 637.70C685.97 637.70 684.00 640.25 684.00 643.97C684.00 648.68 690.89 652.99 696.30 657.30C701.71 652.99 708.60 648.68 708.60 643.97C708.60 640.25 706.63 637.70 702.94 637.70C700.48 637.70 697.78 638.48 696.30 641.42Z" fill="#e87472" stroke="#23282b" stroke-width="1.500"/>
<path d="M763.50 543.15C760.98 537.66 756.36 536.20 752.16 536.20C745.86 536.20 742.50 540.96 742.50 547.91C742.50 556.70 754.26 564.75 763.50 572.80C772.74 564.75 784.50 556.70 784.50 547.91C784.50 540.96 781.14 536.20 774.84 536.20C770.64 536.20 766.02 537.66 763.50 543.15Z" fill="#e87472" stroke="#23282b" stroke-width="1.800"/>
<path d="M459.500 567.800H741.500Q753.800 567.800 753.800 580V616Q753.800 628.300 741.500 628.300H459.500Q447.200 628.300 447.200 616V608.500L428.600 598.700L447.200 590V580Q447.200 567.800 459.500 567.800Z" fill="#fff" stroke="#23282b" stroke-width="2.600" stroke-linejoin="round"/>
<rect x="513" y="604.600" width="227.600" height="13.900" fill="#d9d0c6"/>
<path d="M463.800 600.800L477.700 614.500L505.200 585.800" fill="none" stroke="#8a7357" stroke-width="8.200" stroke-linejoin="miter"/>
<text x="518" y="611.5" font-size="35.500" fill="#0c0c0c" textLength="143" lengthAdjust="spacingAndGlyphs">恋愛目的</text>
<text x="659.700" y="609.300" font-size="36" fill="#0c0c0c">:</text>
<text x="672" y="611.5" font-size="35.500" fill="#0c0c0c" textLength="64" lengthAdjust="spacingAndGlyphs">真剣</text>
</g>
<defs><clipPath id="cw3"><path d="M270 796.600H815.800V932Q815.800 941 806.800 941H240Z"/></clipPath>
<clipPath id="cm1"><circle cx="367" cy="869.400" r="51.200"/></clipPath>
<clipPath id="cm2"><circle cx="505.200" cy="869.400" r="51.200"/></clipPath>
<linearGradient id="gHrt3" x1="0" x2="1" y1="0" y2="1"><stop offset="0" stop-color="#ea7f7c"/><stop offset="1" stop-color="#dc6264"/></linearGradient>
</defs>
<g clip-path="url(#cw3)">
<circle cx="367.0" cy="869.400" r="51.2" fill="#c5e0e8"/><g clip-path="url(#cm1)"><path d="M325.00 932C325.00 912 329.00 902 340.00 897L355.50 886L378.50 886L394.00 897C405.00 902 409.00 912 409.00 932Z" fill="#4a5658" stroke="#15191c" stroke-width="1.500" stroke-linejoin="round"/><path d="M355.00 884.500L379.00 884.500L375.00 926L359.00 926Z" fill="#fff" stroke="#15191c" stroke-width="1.200" stroke-linejoin="round"/><path d="M354.50 885L362.00 926L355.00 926L345.50 904.500L349.50 901L346.00 896.500Z" fill="#566264" stroke="#15191c" stroke-width="1.300" stroke-linejoin="round"/><path d="M379.50 885L372.00 926L379.00 926L388.50 904.500L384.50 901L388.00 896.500Z" fill="#566264" stroke="#15191c" stroke-width="1.300" stroke-linejoin="round"/><path d="M354.50 884L367.00 891L360.50 897.500L353.00 889.500ZM379.50 884L367.00 891L373.50 897.500L381.00 889.500Z" fill="#fff" stroke="#15191c" stroke-width="1.100" stroke-linejoin="round"/><path d="M363.00 891.500L371.00 891.500L370.20 898L372.00 924L362.00 924L363.80 898Z" fill="#2e7d8f" stroke="#15191c" stroke-width="1.100" stroke-linejoin="round"/><path d="M356.50 870H377.50V885C373.00 891 361.00 891 356.50 885Z" fill="#e2a480" stroke="#15191c" stroke-width="1.200"/><ellipse cx="350.40" cy="861" rx="3.200" ry="5" fill="#f3bd95" stroke="#15191c" stroke-width="1.200"/><ellipse cx="383.60" cy="861" rx="3.200" ry="5" fill="#f3bd95" stroke="#15191c" stroke-width="1.200"/><path d="M349.50 859C346.00 846 348.00 834 357.00 829.500C363.00 826.500 372.00 826.500 378.00 829.500C386.50 834 388.00 846 384.50 859L381.00 859L381.00 848L353.00 848L353.00 859Z" fill="#3d4848" stroke="#15191c" stroke-width="1.300" stroke-linejoin="round"/><path d="M351.20 852C351.20 846 356.00 842.500 367.00 842.500C378.00 842.500 382.80 846 382.80 852V862C382.80 872 375.00 879.300 367.00 879.300C359.00 879.300 351.20 872 351.20 862Z" fill="#f3bd95" stroke="#15191c" stroke-width="1.400"/><path d="M350.00 857C347.50 846 349.50 836.500 357.50 832C363.50 829 372.00 829 377.50 832C385.00 836.500 386.50 846 384.00 857C383.50 850 381.00 845.500 376.00 844.500C370.00 843.500 363.00 843.500 358.00 844.500C353.00 845.500 350.50 850 350.00 857Z" fill="#3d4848" stroke="#15191c" stroke-width=".9" stroke-linejoin="round"/></g><circle cx="367.0" cy="869.400" r="51.4" fill="none" stroke="#15191c" stroke-width="2.600"/>
<circle cx="505.2" cy="869.400" r="51.2" fill="#c5e0e8"/><g clip-path="url(#cm2)"><path d="M463.20 932C463.20 912 467.20 902 478.20 897L493.70 886L516.70 886L532.20 897C543.20 902 547.20 912 547.20 932Z" fill="#66776f" stroke="#15191c" stroke-width="1.500" stroke-linejoin="round"/><path d="M493.20 884.500L517.20 884.500L513.20 926L497.20 926Z" fill="#fff" stroke="#15191c" stroke-width="1.200" stroke-linejoin="round"/><path d="M492.70 885L500.20 926L493.20 926L483.70 904.500L487.70 901L484.20 896.500Z" fill="#74857c" stroke="#15191c" stroke-width="1.300" stroke-linejoin="round"/><path d="M517.70 885L510.20 926L517.20 926L526.70 904.500L522.70 901L526.20 896.500Z" fill="#74857c" stroke="#15191c" stroke-width="1.300" stroke-linejoin="round"/><path d="M492.70 884L505.20 891L498.70 897.500L491.20 889.500ZM517.70 884L505.20 891L511.70 897.500L519.20 889.500Z" fill="#fff" stroke="#15191c" stroke-width="1.100" stroke-linejoin="round"/><path d="M501.20 891.500L509.20 891.500L508.40 898L510.20 924L500.20 924L502.00 898Z" fill="#7f9272" stroke="#15191c" stroke-width="1.100" stroke-linejoin="round"/><path d="M494.70 870H515.70V885C511.20 891 499.20 891 494.70 885Z" fill="#e2a480" stroke="#15191c" stroke-width="1.200"/><ellipse cx="488.60" cy="861" rx="3.200" ry="5" fill="#f3bd95" stroke="#15191c" stroke-width="1.200"/><ellipse cx="521.80" cy="861" rx="3.200" ry="5" fill="#f3bd95" stroke="#15191c" stroke-width="1.200"/><path d="M487.70 859C484.20 846 486.20 834 495.20 829.500C501.20 826.500 510.20 826.500 516.20 829.500C524.70 834 526.20 846 522.70 859L519.20 859L519.20 848L491.20 848L491.20 859Z" fill="#5a5f52" stroke="#15191c" stroke-width="1.300" stroke-linejoin="round"/><path d="M489.40 852C489.40 846 494.20 842.500 505.20 842.500C516.20 842.500 521.00 846 521.00 852V862C521.00 872 513.20 879.300 505.20 879.300C497.20 879.300 489.40 872 489.40 862Z" fill="#f3bd95" stroke="#15191c" stroke-width="1.400"/><path d="M488.20 856C485.70 845 488.20 836 496.20 832C502.20 829.500 511.20 830 516.70 833C523.70 837 524.70 846 522.20 856C520.70 851 518.20 847.500 514.20 846.500C512.70 848.500 511.20 849.500 509.70 849.500C510.70 847 510.20 844.500 508.20 842.500C502.20 842 496.20 844 492.70 847C490.20 849.500 489.20 852.500 488.20 856Z" fill="#5a5f52" stroke="#15191c" stroke-width=".9" stroke-linejoin="round"/></g><circle cx="505.2" cy="869.400" r="51.4" fill="none" stroke="#15191c" stroke-width="2.600"/>
<path d="M436.50 844.60C431.80 833.88 423.19 831.20 415.36 831.20C403.61 831.20 397.35 839.91 397.35 852.64C397.35 868.72 419.27 883.46 436.50 898.20C453.73 883.46 475.65 868.72 475.65 852.64C475.65 839.91 469.39 831.20 457.64 831.20C449.81 831.20 441.20 833.88 436.50 844.60Z" fill="url(#gHrt3)" stroke="#15191c" stroke-width="2.700" stroke-linejoin="round"/>
<defs><linearGradient id="gArrR" x1="0" x2="1" y1="0" y2="0"><stop offset="0" stop-color="#5b9fe0"/><stop offset="1" stop-color="#3a7fd2"/></linearGradient></defs>
<path d="M552 857.600H569.300V840L597.600 870.300L569.300 900.600V883.200H552Z" fill="url(#gArrR)"/>
<path d="M556 857.600H569.300V840L597.600 870.300L569.300 900.600V883.200H553.500" fill="none" stroke="#15191c" stroke-width="2.600" stroke-linejoin="miter"/>
<path d="M610.500 960V817.400Q610.500 808.800 619 808.800H733.200Q741.700 808.800 741.700 817.400V960Z" fill="#fff" stroke="#15191c" stroke-width="2.200"/>
<path d="M611.600 830.400V817.400Q611.600 809.900 619 809.900H733.200Q740.600 809.900 740.600 817.400V830.400Z" fill="#4c9ae2"/>
<path d="M610.500 830.400H741.700" stroke="#15191c" stroke-width="1.600"/>
<path d="M705 823.300h6.500" stroke="#12284a" stroke-width="1.800"/><rect x="715.600" y="816.500" width="6.600" height="6.400" fill="none" stroke="#12284a" stroke-width="1.600"/><path d="M727 816.300l6.600 6.800m0-6.800l-6.600 6.800" stroke="#12284a" stroke-width="1.700"/>
<rect x="641.200" y="837.400" width="74" height="18.400" rx="7" fill="#d2d3d3"/>
<circle cx="627" cy="912.500" r="9.300" fill="#2f6f86" stroke="#15191c" stroke-width="1"/>
<rect x="642.600" y="903.800" width="72.400" height="18" rx="7" fill="#d2d3d3"/>
<rect x="611.700" y="913.800" width="129" height="30" fill="#e6e7e7"/>
<rect x="616.200" y="918.900" width="99.400" height="16.800" rx="8.400" fill="#fff" stroke="#15191c" stroke-width="2"/>
<path d="M721.200 921.600L735 927.700L721.200 933.800L724.600 927.700Z" fill="#4c92da"/>
<path d="M651 866.300H765.800Q777.600 866.300 777.600 878V885.500C777.600 890 781 893.500 787.800 895.600C783 896.300 777 896 772 894.600Q769.500 895.400 765.800 895.400H651Q638.200 895.400 638.200 883.600V878Q638.200 866.300 651 866.300Z" fill="#7cc5a9"/>
<text x="646.800" y="887.900" font-size="17.600" fill="#0c0c0c" textLength="121" lengthAdjust="spacingAndGlyphs">来週末に会おう</text>
<text x="763.900" y="888.200" font-size="18.500" fill="#0c0c0c">!</text>
<rect x="589.600" y="812.300" width="46.200" height="40.600" rx="4.500" fill="#f4f0e7" stroke="#15191c" stroke-width="1.800"/>
<path d="M590.500 823.400V816.800Q590.500 813.200 594.100 813.200H631.300Q634.900 813.200 634.900 816.800V823.400Z" fill="#8b7761"/>
<path d="M589.600 823.400H635.800" stroke="#15191c" stroke-width="1.200"/>
<rect x="597.8" y="807.600" width="4.400" height="10.400" rx="2.200" fill="#e9e2d4" stroke="#15191c" stroke-width="1.200"/>
<rect x="622.8" y="807.600" width="4.400" height="10.400" rx="2.200" fill="#e9e2d4" stroke="#15191c" stroke-width="1.200"/>
<rect x="605.0" y="827.6" width="6.200" height="5.200" fill="#a39483"/>
<rect x="614.2" y="827.6" width="6.200" height="5.200" fill="#a39483"/>
<rect x="623.4" y="827.6" width="6.200" height="5.200" fill="#a39483"/>
<rect x="595.8" y="835.2" width="6.200" height="5.200" fill="#a39483"/>
<rect x="605.0" y="835.2" width="6.200" height="5.200" fill="#a39483"/>
<rect x="614.2" y="835.2" width="6.200" height="5.200" fill="#a39483"/>
<rect x="623.4" y="835.2" width="6.200" height="5.200" fill="#a39483"/>
<rect x="595.8" y="842.8" width="6.200" height="5.200" fill="#a39483"/>
<rect x="605.0" y="842.8" width="6.200" height="5.200" fill="#a39483"/>
<rect x="614.2" y="842.8" width="6.200" height="5.200" fill="#a39483"/>
<rect x="623.4" y="842.8" width="6.200" height="5.200" fill="#a39483"/>
<path d="M771.400 833.300V813.700A19.600 19.600 0 0 1 791 833.300Z" fill="#7cc5a9"/>
<path d="M751.700 823.600A21.600 21.600 0 0 1 786.600 818.400" fill="none" stroke="#8a7c6a" stroke-width="3.500"/>
<path d="M789.900 810.800L792.300 823.200L780.400 817.500Z" fill="#8a7c6a"/>
<path d="M788.300 846.300A21.600 21.600 0 0 1 753.800 846.400" fill="none" stroke="#8a7c6a" stroke-width="3.500"/>
<text y="844" fill="#fff" stroke="#fff" stroke-width="4.200" stroke-linejoin="round"><tspan x="747.400" font-size="22.500">3</tspan><tspan x="760.200" font-size="17.800" textLength="35" lengthAdjust="spacingAndGlyphs">週間</tspan></text>
<text y="844" fill="#0c0c0c"><tspan x="747.400" font-size="22.500">3</tspan><tspan x="760.200" font-size="17.800" textLength="35" lengthAdjust="spacingAndGlyphs">週間</tspan></text>
</g>
<path d="M141.1 390.6L141.1 417.4L120.9 417.4L155.0 459.5L189.1 417.4L168.9 417.4L168.9 390.6Z" fill="url(#gA1)"/><path d="M141.1 390.6L141.1 417.4L120.9 417.4L155.0 459.5L189.1 417.4L168.9 417.4L168.9 390.6" fill="none" stroke="#0b1114" stroke-width="2.8" stroke-linejoin="miter" stroke-miterlimit="8"/>
<path d="M427.9 390.9L427.9 413.0L407.9 413.0L440.5 452.5L473.1 413.0L453.1 413.0L453.1 390.9Z" fill="url(#gA2)"/><path d="M427.9 390.9L427.9 413.0L407.9 413.0L440.5 452.5L473.1 413.0L453.1 413.0L453.1 390.9" fill="none" stroke="#0b1114" stroke-width="2.8" stroke-linejoin="miter" stroke-miterlimit="8"/>
<path d="M141.1 669.2L141.1 695.4L120.9 695.4L155.0 736.8L189.1 695.4L168.9 695.4L168.9 669.2Z" fill="#917e66"/><path d="M141.1 669.2L141.1 695.4L120.9 695.4L155.0 736.8L189.1 695.4L168.9 695.4L168.9 669.2" fill="none" stroke="#0b1114" stroke-width="2.8" stroke-linejoin="miter" stroke-miterlimit="8"/>
<path d="M427.3 669.4L427.3 691.3L407.5 691.3L440.7 729.3L473.9 691.3L454.1 691.3L454.1 669.4Z" fill="url(#gA4)"/><path d="M427.3 669.4L427.3 691.3L407.5 691.3L440.7 729.3L473.9 691.3L454.1 691.3L454.1 669.4" fill="none" stroke="#0b1114" stroke-width="2.8" stroke-linejoin="miter" stroke-miterlimit="8"/>
<rect x="142.5" y="386" width="25" height="5.5" fill="#07657a"/>
<rect x="429.3" y="386.4" width="22.4" height="5" fill="#07657a"/>
<rect x="142.5" y="664.5" width="25" height="5.500" fill="#917e66"/>
<rect x="428.6" y="664.8" width="24" height="5.2" fill="#917e66"/>
<g filter="url(#fTxt)">
<text x="301" y="217" font-size="40.500" fill="#fff" textLength="488" lengthAdjust="spacingAndGlyphs">ゲイ専用の恋活アプリを選ぶ</text>
<text x="293.500" y="497" font-size="39.500" fill="#fff" textLength="140" lengthAdjust="spacingAndGlyphs">プロフで</text>
<text x="419" y="497" font-size="39.500" fill="#fff" textLength="35" lengthAdjust="spacingAndGlyphs">「</text>
<text x="452.500" y="497" font-size="39.500" fill="#fff" textLength="150" lengthAdjust="spacingAndGlyphs">恋愛目的</text>
<text x="601.500" y="497" font-size="39.500" fill="#fff" textLength="35" lengthAdjust="spacingAndGlyphs">」</text>
<text x="622.500" y="497" font-size="39.500" fill="#fff" textLength="179" lengthAdjust="spacingAndGlyphs">を明示する</text>
<text x="294.500" y="771.500" font-size="40" fill="#fff" textLength="143.500" lengthAdjust="spacingAndGlyphs">マッチ後、</text>
<text x="427.300" y="771.800" font-size="42" fill="#fff">3</text>
<text x="447.500" y="771.500" font-size="40" fill="#fff" textLength="356" lengthAdjust="spacingAndGlyphs">週間以内に会う約束をする</text>
</g>
</svg>
</div>
<div class="t step stp" style="left:94.42px;top:202.76px;font-size:49.58px;transform:scaleX(0.9310);">STEP</div>
<div class="t step stp" style="left:94.42px;top:481.96px;font-size:49.58px;transform:scaleX(0.9310);">STEP</div>
<div class="t step stp" style="left:94.42px;top:757.86px;font-size:49.58px;transform:scaleX(0.9310);">STEP</div>
<div class="t step" style="left:124.05px;top:521.49px;font-size:119.43px;transform:scaleX(1.0185);">2</div>
<div class="t step" style="left:124.20px;top:798.82px;font-size:117.89px;transform:scaleX(1.0196);">3</div>
<div class="t step" style="left:125.80px;top:246.20px;font-size:114px;">1</div>
<div class="t " style="left:389.52px;top:335.60px;font-size:17.36px;transform:scaleX(0.9777);color:#1b1b1b;">Gay Love</div>
<div class="t " style="left:411.09px;top:355.39px;font-size:17.56px;transform:scaleX(0.9748);color:#1b1b1b;">App</div>
<div class="t " style="left:372.28px;top:962.52px;font-size:47.30px;transform:scaleX(1.0943);color:#161616;font-style:italic;-webkit-text-stroke:1.5px #161616;">sbadi</div>
<div style="position:absolute;left:498.7px;top:964.3px;width:11.8px;height:11.8px;border-radius:50%;background:conic-gradient(from -80deg,#c2401f 0 150deg,#86b945 150deg 210deg,#1c3f9e 210deg 360deg);box-shadow:0 0 0 2.2px #fdfefe;"></div>
<h1 style="margin:0;font-size:0;line-height:0;"><span class="t " style="left:486.55px;top:44.75px;font-size:85.63px;transform:scaleX(1.0790);color:#000;-webkit-text-stroke:1.5px #000;">3</span></h1>
</body>
</html>
